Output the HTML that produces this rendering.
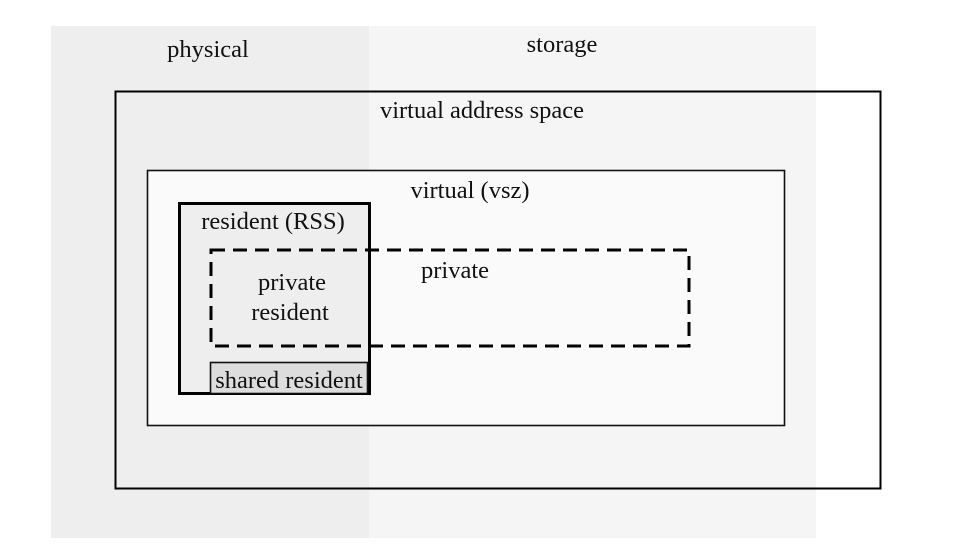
<!DOCTYPE html>
<html><head><meta charset="utf-8"><style>
html,body{margin:0;padding:0;background:#fff;}
svg{display:block;}
text{font-family:"Liberation Serif",serif;font-size:24.5px;fill:#111;}
</style></head><body>
<svg width="964" height="558" viewBox="0 0 964 558" xmlns="http://www.w3.org/2000/svg">
<rect x="51" y="26" width="318" height="512" fill="#eeeeee"/>
<rect x="369" y="26" width="447" height="512" fill="#f5f5f5"/>
<text x="208" y="57" text-anchor="middle">physical</text>
<text x="562" y="52" text-anchor="middle">storage</text>
<rect x="115.5" y="91.5" width="765" height="397" fill="none" stroke="#000" stroke-width="2"/>
<text x="482" y="118" text-anchor="middle">virtual address space</text>
<rect x="147.5" y="170.5" width="637" height="255" fill="#fafafa" stroke="#111" stroke-width="1.6"/>
<text x="470" y="198" text-anchor="middle">virtual (vsz)</text>
<rect x="179.5" y="203.5" width="190" height="190" fill="#eeeeee" stroke="#000" stroke-width="3"/>
<text x="273" y="229" text-anchor="middle">resident (RSS)</text>
<rect x="210.5" y="362.5" width="157" height="31" fill="#dddddd" stroke="#111" stroke-width="1.6"/>
<text x="289" y="388" text-anchor="middle">shared resident</text>
<rect x="211" y="250" width="478" height="96" fill="none" stroke="#000" stroke-width="3" stroke-dasharray="14,8"/>
<text x="292" y="290" text-anchor="middle">private</text>
<text x="290" y="320" text-anchor="middle">resident</text>
<text x="455" y="278" text-anchor="middle">private</text>
</svg>
</body></html>
